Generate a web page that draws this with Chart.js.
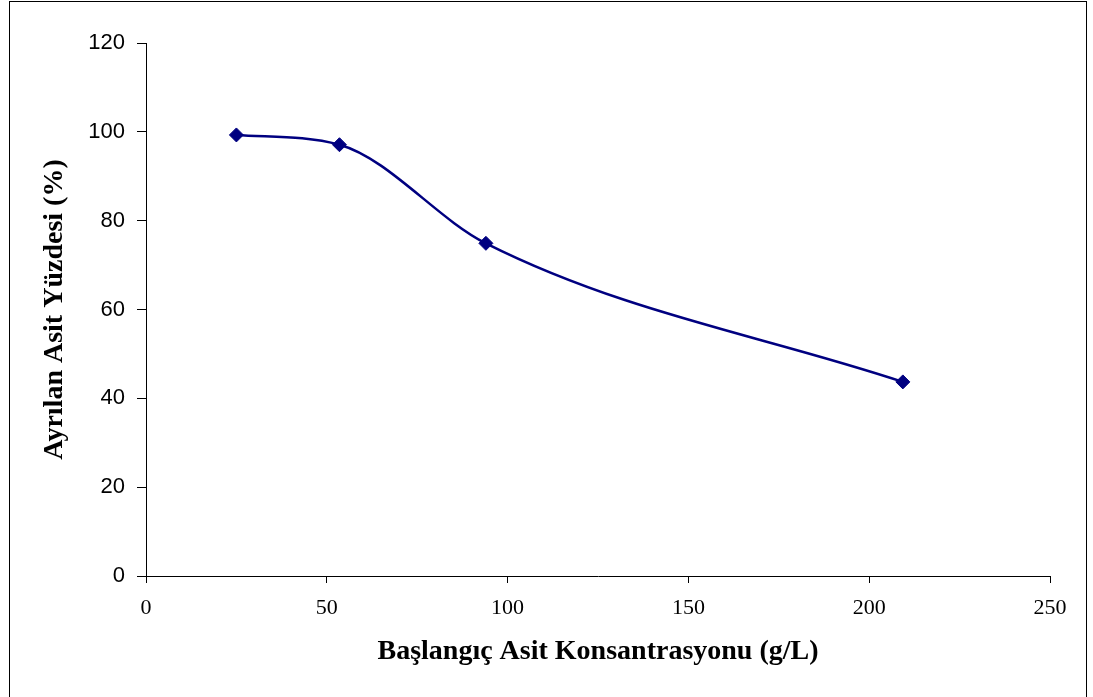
<!DOCTYPE html>
<html lang="tr">
<head>
  <meta charset="UTF-8" />
  <title>Başlangıç Asit Konsantrasyonu</title>
  <script src="https://cdn.jsdelivr.net/npm/chart.js"></script>
  <style>
    body {
      margin: 0;
      background: white;
    }
    .wrap {
      position: relative;
      width: 1093px;
      height: 697px;
    }
    .frame {
      position: absolute;
      left: 9px;
      top: 1px;
      width: 1076px;
      height: 710px;
      border: 1px solid #000;
      pointer-events: none;
    }
  </style>
</head>
<body>
  <div class="wrap">
    <canvas id="chart" width="1093" height="697"></canvas>
    <div class="frame"></div>
  </div>

  <script>
    // initial acid concentration (g/L) vs. percentage of acid separated
    const concentration = [25, 53.5, 94, 209.3];
    const removal = [99.3, 97.1, 74.9, 43.7];

    const xTicks = [0, 50, 100, 150, 200, 250];
    const yTicks = [0, 20, 40, 60, 80, 100, 120];

    const points = concentration.map((x, i) => ({ x, y: removal[i] }));

    const serif = '"Liberation Serif", "Times New Roman", serif';

    const ctx = document.getElementById('chart').getContext('2d');
    new Chart(ctx, {
      type: 'scatter',
      data: {
        datasets: [{
          data: points,
          showLine: true,
          cubicInterpolationMode: 'monotone',
          borderColor: '#000080',
          borderWidth: 2.5,
          pointStyle: 'rectRot',
          pointRadius: 7,
          pointBackgroundColor: '#000080',
          pointBorderColor: '#000080',
          pointBorderWidth: 1
        }]
      },
      options: {
        responsive: false,
        animation: false,
        layout: { padding: { top: 43, right: 43, left: 0, bottom: 0 } },
        plugins: {
          legend: { display: false },
          tooltip: { enabled: false }
        },
        scales: {
          x: {
            type: 'linear',
            min: 0,
            max: 250,
            afterBuildTicks: s => { s.ticks = xTicks.map(v => ({ value: v })); },
            afterFit: s => { s.height = 121; },
            grid: { display: true, drawOnChartArea: false, drawTicks: true, tickLength: 7, tickColor: '#000' },
            border: { color: '#000', width: 1 },
            ticks: {
              color: '#000',
              padding: 12,
              maxRotation: 0,
              font: { family: serif, size: 22 }
            },
            title: {
              display: true,
              text: 'Başlangıç Asit Konsantrasyonu (g/L)',
              color: '#000',
              padding: { top: 0, bottom: 28 },
              font: { family: serif, size: 28, weight: 'bold' }
            }
          },
          y: {
            type: 'linear',
            min: 0,
            max: 120,
            afterBuildTicks: s => { s.ticks = yTicks.map(v => ({ value: v })); },
            afterFit: s => { s.width = 146; },
            grid: { display: true, drawOnChartArea: false, drawTicks: true, tickLength: 9, tickColor: '#000' },
            border: { color: '#000', width: 1 },
            ticks: {
              color: '#000',
              padding: 12,
              font: { family: '"Liberation Sans", Arial, sans-serif', size: 22 }
            },
            title: {
              display: true,
              text: 'Ayrılan Asit Yüzdesi (%)',
              color: '#000',
              padding: { top: 38, bottom: 0 },
              font: { family: serif, size: 28, weight: 'bold' }
            }
          }
        }
      }
    });
  </script>
</body>
</html>
